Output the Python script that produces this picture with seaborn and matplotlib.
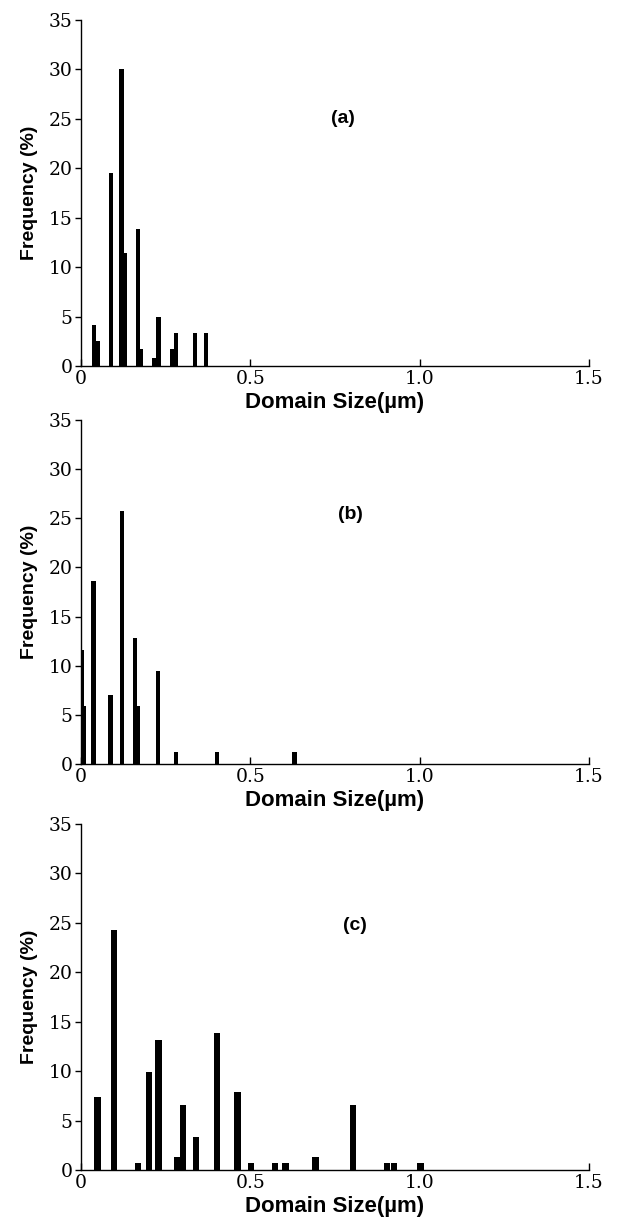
import numpy as np
import pandas as pd
import matplotlib
matplotlib.use("Agg")
import matplotlib.pyplot as plt
import seaborn as sns

# ---- data ----
size_a = [0.039, 0.049, 0.088, 0.119, 0.129, 0.168, 0.177, 0.217, 0.229, 0.270, 0.280, 0.337, 0.369]
freq_a = [4.1, 2.5, 19.5, 30.0, 11.4, 13.9, 1.7, 0.8, 5.0, 1.7, 3.3, 3.3, 3.3]

size_b = [0.003, 0.008, 0.037, 0.087, 0.121, 0.159, 0.168, 0.227, 0.280, 0.401, 0.631]
freq_b = [11.6, 5.9, 18.6, 7.0, 25.7, 12.8, 5.9, 9.5, 1.2, 1.2, 1.2]

size_c = [0.049, 0.097, 0.168, 0.200, 0.229, 0.283, 0.301, 0.340, 0.402, 0.462,
          0.502, 0.573, 0.604, 0.693, 0.803, 0.903, 0.924, 1.002]
freq_c = [7.4, 24.3, 0.66, 9.9, 13.2, 1.3, 6.6, 3.3, 13.9, 7.9,
          0.66, 0.66, 0.66, 1.3, 6.6, 0.66, 0.66, 0.66]

panel_labels = ["(a)", "(b)", "(c)"]
x_ticks = [0, 0.5, 1.0, 1.5]
x_tick_labels = ["0", "0.5", "1.0", "1.5"]
y_ticks = [0, 5, 10, 15, 20, 25, 30, 35]
y_tick_labels = ["0", "5", "10", "15", "20", "25", "30", "35"]
x_label = "Domain Size(\u00b5m)"
y_label = "Frequency (%)"

sns.set_style("ticks")
plt.rcParams["font.family"] = ["DejaVu Serif", "Liberation Serif"]
plt.rcParams["text.color"] = "black"
plt.rcParams["axes.labelcolor"] = "black"
sans = ["Liberation Sans", "DejaVu Sans"]

W, H = 618, 1225
fig = plt.figure(figsize=(W / 100, H / 100), dpi=100)

# axes boxes in pixels: (left, top of y=35, right, bottom y=0)
boxes = [(81, 20, 589, 366), (81, 420, 589, 764), (81, 824, 589, 1170)]
bar_w = [0.013, 0.013, 0.019]
label_pos = [(0.774, 25.0), (0.796, 25.4), (0.808, 24.7)]

panels = [(size_a, freq_a), (size_b, freq_b), (size_c, freq_c)]

for i, ((xs, ys), (l, t, r, b)) in enumerate(zip(panels, boxes)):
    ax = fig.add_axes([l / W, 1 - b / H, (r - l) / W, (b - t) / H])
    df = pd.DataFrame({"size": xs, "freq": ys})
    min_gap = np.min(np.diff(np.unique(df["size"].values)))
    sns.barplot(data=df, x="size", y="freq", native_scale=True,
                width=bar_w[i] / min_gap, color="black", saturation=1,
                errorbar=None, linewidth=0, ax=ax)
    ax.set_xlim(0, 1.5)
    ax.set_ylim(0, 35)
    ax.set_xticks(x_ticks)
    ax.set_xticklabels(x_tick_labels)
    ax.set_yticks(y_ticks)
    ax.set_yticklabels(y_tick_labels)
    for s in ["top", "right"]:
        ax.spines[s].set_visible(False)
    for s in ["left", "bottom"]:
        ax.spines[s].set_linewidth(1.0)
        ax.spines[s].set_color("black")
    ax.tick_params(axis="y", direction="out", length=4, width=1, pad=2,
                   labelsize=13.5, colors="black")
    ax.tick_params(axis="x", direction="in", length=5, width=1, pad=3,
                   labelsize=13.5, colors="black")
    ax.set_xlabel(x_label, fontsize=16, fontweight="bold", family=sans,
                  labelpad=3, color="black")
    ax.set_ylabel(y_label, fontsize=14, fontweight="bold", family=sans,
                  labelpad=8, color="black")
    ax.text(label_pos[i][0], label_pos[i][1], panel_labels[i], fontsize=14,
            fontweight="bold", family=sans, ha="center", va="center",
            color="black")

fig.savefig("out.png", dpi=100, facecolor="white")
